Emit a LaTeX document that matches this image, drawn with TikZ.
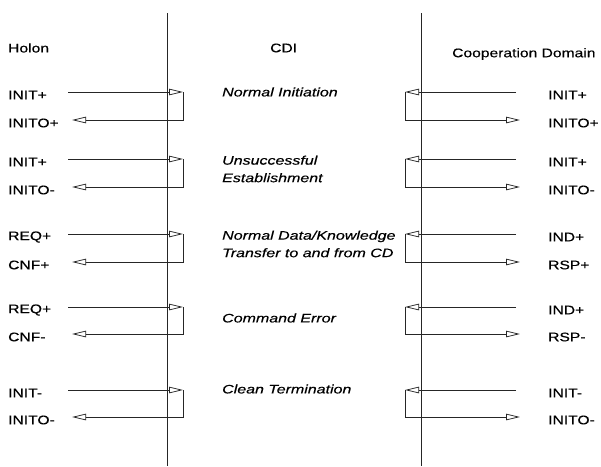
\documentclass[tikz,border=0pt]{standalone}
\usepackage{fontspec}
\setmainfont[FakeStretch=1.25,FakeBold=0.35]{Liberation Sans}
\newfontfamily\midfont[FakeStretch=1.3,FakeBold=0.35]{Liberation Sans}
\usetikzlibrary{arrows.meta}
\tikzset{
  lbl/.style={font=\fontsize{12.5}{14}\selectfont, inner sep=0pt, anchor=west},
  mid/.style={font=\midfont\fontsize{12.3}{17.5}\selectfont\itshape, inner sep=0pt, anchor=west, align=left},
  wire/.style={line width=0.75pt, draw=black!85},
  sig/.style={wire, -{Triangle[open, length=14pt, width=6.5pt, line width=0.75pt]}},
}
\begin{document}
\begin{tikzpicture}[x=1pt, y=-1pt]
\useasboundingbox (0,0) rectangle (601,466);
% headers
\node[lbl] (holon) at (8,48) {Holon};
\node[lbl] (cdi) at (270,48) {CDI};
\node[lbl] (coop) at (452,54) {Cooperation Domain};
% interface lines
\coordinate (lvtop) at (167,13);
\coordinate (lvbot) at (167,466);
\coordinate (rvtop) at (421,13);
\coordinate (rvbot) at (421,466);
\draw[wire] (lvtop) -- (lvbot);
\draw[wire] (rvtop) -- (rvbot);
% groups
\foreach \i/\yt/\yb/\la/\lb/\ra/\rb/\m/\my in {
  1/92/120/INIT+/INITO+/INIT+/INITO+/{Normal Initiation}/92,
  2/159/187/INIT+/INITO-/INIT+/INITO-/{Unsuccessful\\Establishment}/169,
  3/234/262/REQ+/CNF+/IND+/RSP+/{Normal Data/Knowledge\\Transfer to and from CD}/244,
  4/307/334/REQ+/CNF-/IND+/RSP-/{Command Error}/318,
  5/390/417/INIT-/INITO-/INIT-/INITO-/{Clean Termination}/389}{
  \node[lbl] (lt\i) at (8,\yt+3) {\la};
  \node[lbl] (lb\i) at (8,\yb+3) {\lb};
  \node[lbl] (rt\i) at (548,\yt+3) {\ra};
  \node[lbl] (rb\i) at (548,\yb+3) {\rb};
  \node[mid] (m\i) at (222,\my) {\m};
  \coordinate (lsa\i) at (68,\yt);
  \coordinate (lsb\i) at (183,\yt);
  \coordinate (lsc\i) at (72,\yb);
  \coordinate (rsa\i) at (516,\yt);
  \coordinate (rsb\i) at (405,\yt);
  \coordinate (rsc\i) at (520,\yb);
  \draw[sig] (lsa\i) -- (lsb\i);
  \draw[sig] (lsb\i) |- (lsc\i);
  \draw[sig] (rsa\i) -- (rsb\i);
  \draw[sig] (rsb\i) |- (rsc\i);
}
\end{tikzpicture}
\end{document}
